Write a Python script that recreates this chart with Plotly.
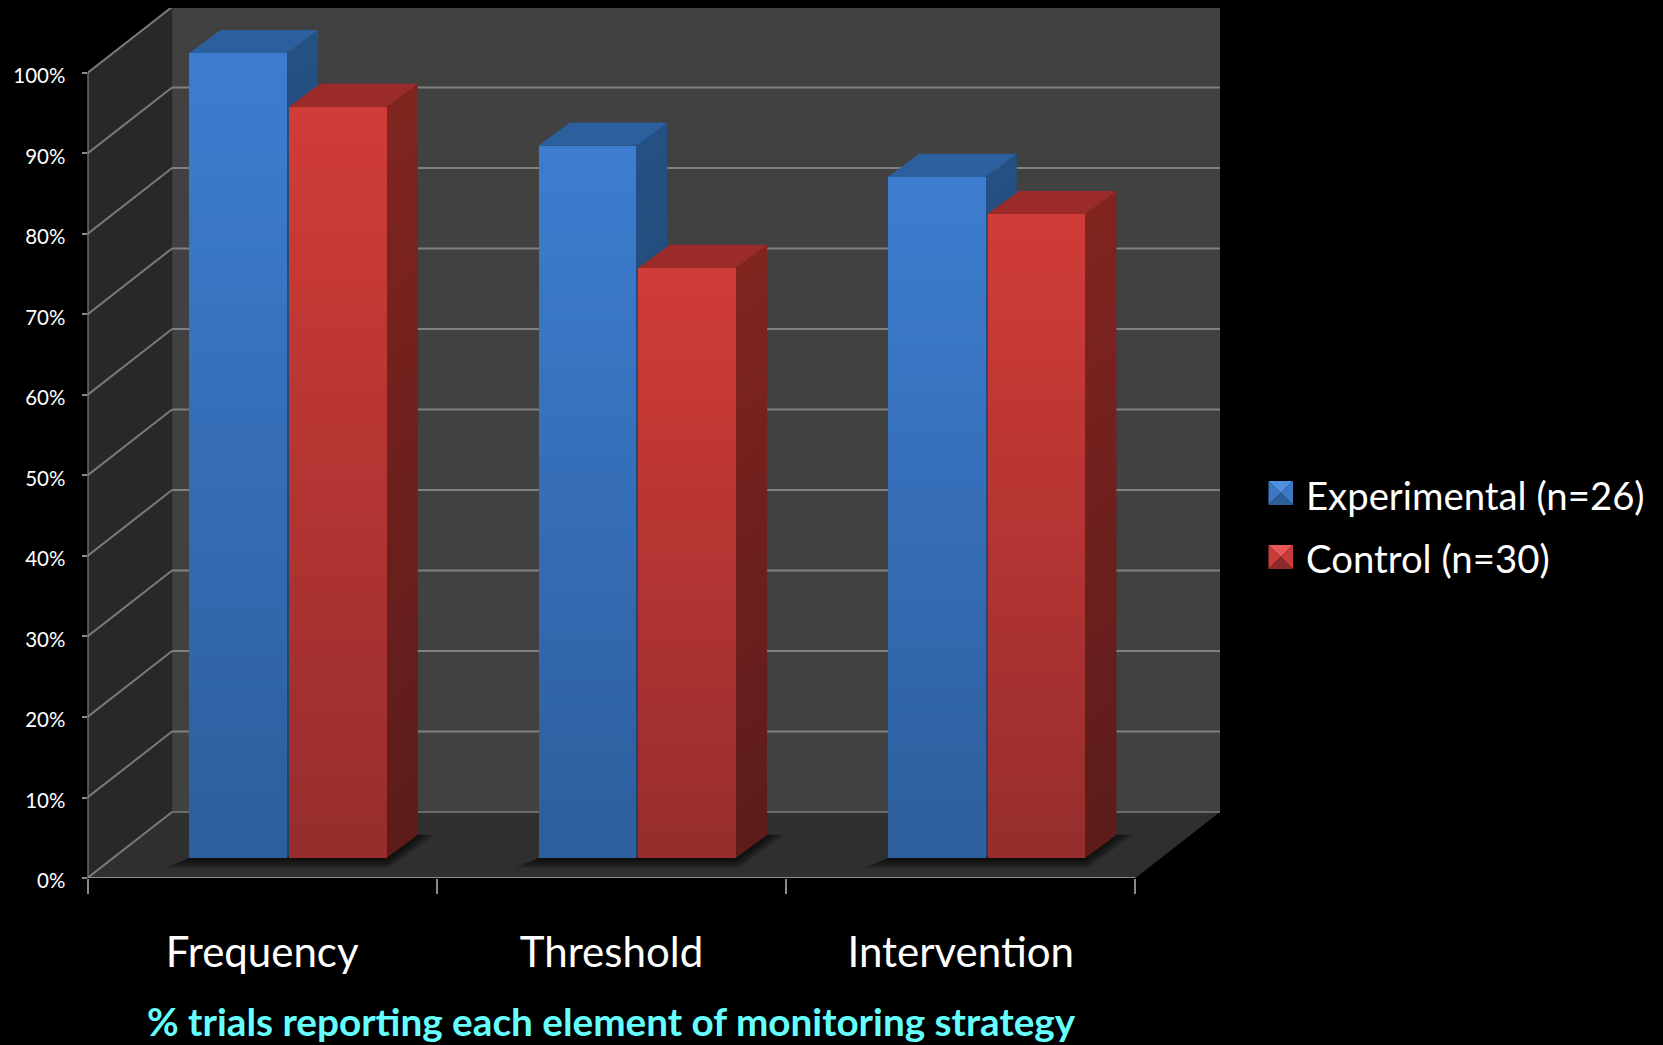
import plotly.graph_objects as go

# Data
categories = ["Frequency", "Threshold", "Intervention"]
experimental = [100.0, 88.5, 84.6]
control = [93.3, 73.3, 80.0]
series_names = ["Experimental (n=26)", "Control (n=30)"]
y_ticks = [0, 10, 20, 30, 40, 50, 60, 70, 80, 90, 100]
y_labels = ["0%", "10%", "20%", "30%", "40%", "50%", "60%", "70%", "80%", "90%", "100%"]
caption = "% trials reporting each element of monitoring strategy"

W, H = 1663, 1045

# Oblique projection of the chart box, in axis units
DX = 0.242     # sideways shift of the back wall, categories
DY = 8.2       # upward shift of the back wall, percent
BAR_W = 0.279
BAR_PITCH = 0.2855
DEPTH_FRONT = 0.30
DEPTH_BACK = 0.675
TOP_FLATTEN = 0.94  # bars' rear edges sit slightly lower than the plain projection
N_CAT = len(categories)

X_MAX = N_CAT + DX
Y_MAX = 108.07
LEFT, RIGHT, BOTTOM, TOP = 87.5, 1220.0, 878.0, 8.0


def proj(x, pct, depth):
    return x + depth * DX, pct + depth * DY


def bar_rear(x, pct):
    """Rear corner of a bar, projected with the flatter vertical shift."""
    px, py = proj(x, pct, DEPTH_BACK)
    front_y = pct + DEPTH_FRONT * DY
    return px, front_y + (py - front_y) * TOP_FLATTEN


def path(points):
    body = " L ".join(f"{x:.4f},{y:.4f}" for x, y in points)
    return f"M {body} Z"


def poly(points, color):
    return dict(type="path", path=path(points), xref="x", yref="y", layer="below",
                fillcolor=color, line=dict(width=0))


def segment(a, b, color, width=2):
    return dict(type="line", x0=a[0], y0=a[1], x1=b[0], y1=b[1], xref="x", yref="y",
                layer="below", line=dict(color=color, width=width))


def mix(c0, c1, t):
    return "rgb({},{},{})".format(*[round(a + (b - a) * t) for a, b in zip(c0, c1)])


shapes = []

# Walls and floor
shapes.append(poly([proj(0, 0, 1), proj(N_CAT, 0, 1), proj(N_CAT, 100, 1), proj(0, 100, 1)], "#414141"))
shapes.append(poly([proj(0, 0, 0), proj(0, 0, 1), proj(0, 100, 1), proj(0, 100, 0)], "#282828"))
shapes.append(poly([proj(0, 0, 0), proj(N_CAT, 0, 0), proj(N_CAT, 0, 1), proj(0, 0, 1)], "#2f2f2f"))

# Gridlines run across the back wall and down the left wall
for t in y_ticks:
    shapes.append(segment(proj(0, t, 0), proj(0, t, 1), "#7a7a7a"))
    shapes.append(segment(proj(0, t, 1), proj(N_CAT, t, 1), "#808080" if t else "#6a6a6a"))

# Axis lines along the front edge
shapes.append(segment(proj(0, 0, 0), proj(0, 100, 0), "#8a8a8a"))
shapes.append(segment(proj(0, 0, 0), proj(N_CAT, 0, 0), "#8a8a8a"))

BLUE = dict(front=((61, 125, 208), (45, 94, 156)), side=((36, 80, 131), (30, 66, 110)), top="#2c5f9e")
RED = dict(front=((209, 60, 56), (150, 45, 45)), side=((129, 36, 32), (92, 28, 26)), top="#9b2b29")
styles = [BLUE, RED]
series = [experimental, control]

offsets = [-BAR_PITCH / 2, BAR_PITCH / 2]


def slot_center(cat, s):
    """Bar centre before the depth shift is applied."""
    return cat + 0.5 + offsets[s]


# Soft floor shadow below each cluster
for cat in range(N_CAT):
    x0 = slot_center(cat, 0) - BAR_W / 2
    x1 = slot_center(cat, 1) + BAR_W / 2
    for step in (1.0, 0.85, 0.7, 0.55, 0.4, 0.25, 0.12):
        near = DEPTH_FRONT - 0.15 * step
        pts = [
            (x0 + DEPTH_FRONT * DX - 0.07 * step, near * DY),
            (x1 + DEPTH_FRONT * DX + 0.01 * step, near * DY),
            proj(x1 + 0.055 * step, 0, DEPTH_BACK - 0.02),
            proj(x1, 0, DEPTH_BACK - 0.02),
            proj(x0, 0, DEPTH_FRONT),
        ]
        shapes.append(poly(pts, "rgba(0,0,0,0.13)"))

# Side and top faces of every bar, painted left to right
N_SIDE = 24
for cat in range(N_CAT):
    for s in range(2):
        val = series[s][cat]
        style = styles[s]
        right = slot_center(cat, s) + BAR_W / 2
        left = right - BAR_W
        for i in range(N_SIDE):
            lo = val * i / N_SIDE
            hi = val * (i + 1) / N_SIDE + 0.05
            col = mix(style["side"][1], style["side"][0], (i + 0.5) / N_SIDE)
            shapes.append(poly([proj(right, lo, DEPTH_FRONT), bar_rear(right, lo),
                                bar_rear(right, hi), proj(right, hi, DEPTH_FRONT)], col))
        shapes.append(poly([proj(left, val, DEPTH_FRONT), proj(right, val, DEPTH_FRONT),
                            bar_rear(right, val), bar_rear(left, val)], style["top"]))

fig = go.Figure()

# Front faces: the solid bar per series, then shaded bands over it
N_BANDS = 48
for s, (name, vals) in enumerate(zip(series_names, series)):
    centers = [slot_center(c, s) + DEPTH_FRONT * DX for c in range(N_CAT)]
    base = [DEPTH_FRONT * DY] * N_CAT
    fig.add_trace(go.Bar(x=centers, y=vals, base=base, width=BAR_W, name=name,
                         marker=dict(color=mix(*styles[s]["front"], 0.5), line=dict(width=0)),
                         showlegend=False, hoverinfo="skip"))
    xs, bs, hs, cs = [], [], [], []
    for c, v in enumerate(vals):
        for i in range(N_BANDS):
            xs.append(centers[c])
            bs.append(base[c] + v * i / N_BANDS)
            hs.append(v / N_BANDS)
            cs.append(mix(styles[s]["front"][1], styles[s]["front"][0], (i + 0.5) / N_BANDS))
    fig.add_trace(go.Bar(x=xs, y=hs, base=bs, width=BAR_W, marker=dict(color=cs, line=dict(width=0)),
                         showlegend=False, hoverinfo="skip"))

# Legend glyphs and labels
FONT = "Lato, Carlito, sans-serif"
annotations = []
legend_rows = [(481, 505, 495, (78, 145, 225), (48, 98, 160), (60, 120, 195), (45, 95, 155)),
               (545, 569, 558, (232, 88, 86), (150, 46, 46), (200, 60, 58), (140, 42, 42))]
for (y0, y1, yc, top_c, bot_c, side_c, low_c), label in zip(legend_rows, series_names):
    x0, x1 = 1268.5, 1293.0
    xm, ym = (x0 + x1) / 2, (y0 + y1) / 2

    def pp(x, y):
        return f"{x / W:.5f},{1 - y / H:.5f}"
    faces = [
        ([(x0, y0), (x1, y0), (xm, ym)], top_c),
        ([(x0, y0), (x0, y1), (xm, ym)], side_c),
        ([(x1, y0), (x1, y1), (xm, ym)], side_c),
        ([(x0, y1), (x1, y1), (xm, ym)], low_c),
    ]
    for pts, col in faces:
        shapes.append(dict(type="path", xref="paper", yref="paper",
                           path="M " + " L ".join(pp(*p) for p in pts) + " Z",
                           fillcolor="rgb({},{},{})".format(*col), line=dict(width=0)))
    annotations.append(dict(text=label, x=1304 / W, y=1 - yc / H, xref="paper", yref="paper",
                            xanchor="left", yanchor="middle", showarrow=False,
                            font=dict(family=FONT, size=38.3, color="#ffffff")))

annotations.append(dict(text=f"<b>{caption}</b>", x=611 / W, y=1 - 1021 / H, xref="paper", yref="paper",
                        xanchor="center", yanchor="middle", showarrow=False,
                        font=dict(family=FONT, size=38.7, color="#66ffff")))

fig.update_layout(
    width=W, height=H, margin=dict(l=0, r=0, t=0, b=0), autosize=False,
    paper_bgcolor="#000000", plot_bgcolor="#000000", barmode="overlay", bargap=0,
    showlegend=False, shapes=shapes, annotations=annotations,
    xaxis=dict(domain=[LEFT / W, RIGHT / W], range=[0, X_MAX], showgrid=False, zeroline=False,
               showline=False, automargin=False, tickmode="array",
               tickvals=[c + 0.5 for c in range(N_CAT)], ticktext=categories,
               ticks="outside", ticklen=38, tickcolor="rgba(0,0,0,0)",
               tickfont=dict(family=FONT, size=42, color="#ffffff"),
               minor=dict(tickmode="array", tickvals=list(range(N_CAT + 1)), ticks="outside",
                          ticklen=15, tickwidth=2, tickcolor="#8a8a8a", showgrid=False)),
    yaxis=dict(domain=[1 - BOTTOM / H, 1 - TOP / H], range=[0, Y_MAX], showgrid=False, zeroline=False,
               showline=False, automargin=False, tickmode="array", tickvals=y_ticks, ticktext=y_labels,
               ticks="outside", ticklen=5, tickwidth=2, tickcolor="#8a8a8a", ticklabelstandoff=12,
               ticklabelshift=3,
               tickfont=dict(family=FONT, size=20.5, color="#ffffff")),
)

fig.write_html("out.html")
